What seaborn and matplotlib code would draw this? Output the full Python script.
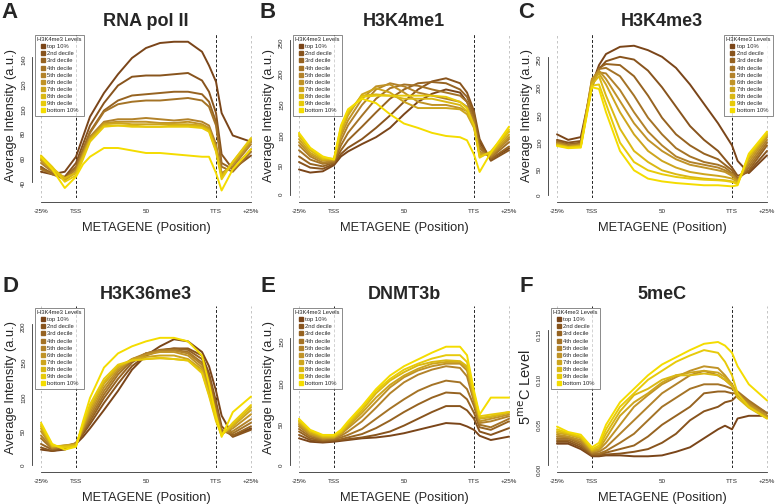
import matplotlib.pyplot as plt
import pandas as pd
import seaborn as sns
from matplotlib.lines import Line2D

# metagene positions (-25% upstream .. TSS=0 .. TTS=100 .. +25% downstream)
positions = [-25, -17, -8, 0, 5, 10, 20, 30, 40, 50, 60, 70, 80, 90, 95, 100, 104, 112, 125]
levels = ["top 10%", "2nd decile", "3rd decile", "4th decile", "5th decile",
          "6th decile", "7th decile", "8th decile", "9th decile", "bottom 10%"]

rna_pol2 = [
    [48, 46, 48, 60, 76, 92, 111, 126, 139, 147, 151, 152, 152, 144, 133, 120, 95, 77, 72],
    [52, 46, 44, 55, 70, 85, 103, 117, 124, 125, 125, 126, 127, 121, 112, 95, 62, 50, 61],
    [51, 47, 43, 52, 66, 80, 97, 105, 109, 110, 111, 112, 112, 110, 104, 88, 55, 50, 66],
    [50, 46, 42, 51, 65, 79, 96, 102, 104, 105, 105, 106, 107, 105, 100, 85, 52, 48, 64],
    [55, 48, 42, 50, 63, 76, 88, 90, 90, 91, 90, 89, 90, 88, 85, 70, 47, 52, 70],
    [57, 49, 41, 48, 62, 75, 87, 88, 88, 88, 87, 87, 88, 86, 83, 68, 46, 54, 72],
    [58, 50, 42, 47, 61, 74, 86, 87, 86, 86, 86, 86, 86, 85, 82, 66, 45, 55, 73],
    [59, 51, 43, 47, 60, 73, 85, 85, 85, 84, 84, 85, 85, 84, 81, 65, 44, 56, 74],
    [61, 52, 40, 45, 58, 72, 84, 85, 84, 84, 84, 84, 84, 83, 80, 64, 42, 56, 75],
    [60, 50, 35, 44, 54, 60, 67, 67, 65, 63, 63, 62, 61, 60, 60, 47, 33, 50, 66],
]
h3k4me1 = [
    [41, 36, 38, 48, 62, 70, 82, 93, 108, 130, 150, 163, 170, 165, 150, 125, 85, 58, 75],
    [53, 44, 42, 50, 66, 76, 90, 108, 128, 150, 170, 183, 188, 180, 165, 135, 90, 55, 72],
    [62, 50, 46, 52, 72, 88, 110, 133, 155, 170, 180, 182, 180, 170, 158, 130, 80, 58, 78],
    [72, 57, 50, 53, 80, 100, 128, 155, 172, 178, 176, 170, 165, 160, 150, 122, 75, 60, 85],
    [80, 62, 52, 55, 88, 112, 145, 170, 180, 175, 165, 160, 155, 150, 142, 118, 70, 62, 90],
    [85, 65, 55, 56, 95, 120, 155, 175, 178, 165, 150, 145, 145, 140, 135, 112, 68, 64, 93],
    [90, 68, 56, 57, 100, 128, 162, 172, 165, 150, 140, 140, 140, 138, 130, 108, 65, 66, 97],
    [95, 72, 58, 58, 105, 132, 160, 162, 160, 155, 155, 155, 150, 145, 135, 110, 62, 68, 102],
    [98, 75, 60, 58, 110, 135, 158, 160, 160, 160, 160, 160, 158, 150, 140, 112, 60, 70, 105],
    [100, 76, 62, 57, 112, 138, 155, 148, 130, 115, 108, 100, 95, 93, 88, 65, 37, 68, 110],
]
h3k4me3 = [
    [110, 100, 105, 200, 235, 255, 268, 270, 262, 250, 230, 200, 165, 130, 110, 90, 62, 40, 72],
    [100, 95, 98, 195, 228, 242, 250, 245, 225, 195, 160, 125, 100, 80, 65, 50, 35, 42, 80],
    [98, 92, 95, 200, 230, 237, 235, 215, 180, 140, 110, 90, 75, 65, 55, 45, 30, 45, 90],
    [96, 90, 92, 205, 228, 230, 215, 180, 140, 110, 85, 70, 60, 55, 50, 40, 28, 50, 95],
    [95, 90, 92, 210, 222, 220, 190, 150, 115, 90, 70, 60, 55, 50, 45, 38, 27, 55, 100],
    [93, 88, 90, 210, 225, 210, 170, 130, 100, 80, 65, 55, 50, 45, 42, 35, 25, 60, 105],
    [92, 87, 90, 205, 220, 200, 150, 110, 80, 62, 50, 42, 38, 35, 33, 30, 24, 65, 108],
    [91, 87, 88, 200, 215, 180, 120, 80, 60, 45, 38, 33, 30, 28, 27, 25, 22, 70, 110],
    [90, 86, 88, 198, 200, 165, 95, 60, 45, 38, 33, 30, 28, 27, 26, 24, 20, 72, 112],
    [89, 85, 86, 195, 192, 150, 80, 45, 30, 25, 22, 20, 18, 18, 17, 16, 18, 75, 115],
]
h3k36me3 = [
    [22, 20, 22, 30, 40, 52, 78, 105, 135, 155, 168, 178, 175, 160, 140, 105, 70, 42, 52],
    [25, 20, 24, 31, 44, 58, 88, 115, 140, 155, 162, 165, 165, 155, 130, 90, 55, 40, 50],
    [30, 22, 25, 31, 46, 62, 95, 122, 145, 158, 163, 165, 163, 150, 125, 85, 50, 42, 55],
    [38, 23, 26, 31, 48, 66, 100, 128, 148, 158, 162, 163, 160, 145, 120, 80, 48, 45, 60],
    [42, 24, 27, 31, 50, 70, 105, 132, 150, 158, 162, 162, 158, 142, 115, 75, 46, 48, 65],
    [48, 25, 28, 30, 52, 74, 110, 135, 150, 156, 160, 160, 155, 138, 110, 70, 45, 52, 72],
    [52, 26, 28, 29, 54, 78, 115, 138, 150, 153, 155, 155, 150, 135, 105, 68, 44, 55, 78],
    [55, 27, 27, 28, 56, 82, 118, 140, 148, 150, 151, 150, 148, 132, 100, 65, 43, 57, 82],
    [57, 28, 25, 27, 58, 86, 122, 142, 148, 150, 152, 150, 148, 130, 98, 62, 42, 60, 85],
    [60, 30, 22, 26, 62, 95, 138, 158, 168, 175, 180, 180, 175, 155, 115, 70, 40, 75, 97],
]
dnmt3b = [
    [32, 28, 27, 28, 29, 30, 32, 33, 35, 38, 42, 46, 50, 49, 46, 42, 35, 30, 34],
    [36, 30, 28, 29, 30, 31, 33, 36, 40, 47, 55, 63, 70, 70, 65, 55, 40, 36, 44],
    [40, 32, 29, 30, 31, 33, 37, 44, 53, 63, 72, 80, 86, 85, 78, 62, 45, 42, 52],
    [43, 34, 30, 31, 33, 36, 43, 55, 67, 78, 88, 95, 100, 98, 90, 70, 48, 45, 55],
    [46, 36, 31, 32, 35, 40, 52, 68, 85, 98, 107, 113, 117, 115, 105, 75, 50, 52, 58],
    [48, 37, 32, 33, 37, 44, 58, 75, 92, 104, 112, 117, 120, 120, 112, 78, 52, 55, 60],
    [50, 38, 33, 33, 38, 46, 62, 80, 95, 106, 114, 120, 122, 122, 115, 80, 55, 57, 62],
    [52, 40, 34, 34, 39, 48, 65, 85, 100, 110, 118, 122, 124, 123, 117, 82, 56, 58, 63],
    [53, 41, 35, 35, 40, 50, 68, 88, 102, 113, 120, 126, 130, 130, 122, 85, 58, 60, 63],
    [55, 42, 36, 36, 42, 52, 70, 90, 106, 117, 125, 133, 140, 140, 130, 88, 60, 80, 80],
]
mec5 = [
    [.024, .024, .018, .010, .010, .011, .011, .010, .010, .011, .015, .020, .030, .040, .044, .040, .052, .055, .055],
    [.026, .026, .020, .011, .011, .012, .013, .015, .018, .025, .035, .050, .060, .065, .070, .072, .078, .068, .055],
    [.028, .028, .022, .012, .012, .014, .018, .022, .032, .045, .055, .065, .080, .082, .082, .080, .080, .070, .058],
    [.030, .030, .024, .013, .013, .016, .025, .035, .050, .065, .075, .085, .090, .090, .088, .085, .082, .072, .058],
    [.032, .031, .026, .014, .015, .020, .035, .050, .065, .080, .090, .100, .105, .100, .095, .088, .080, .070, .055],
    [.034, .032, .028, .015, .017, .025, .045, .065, .078, .090, .098, .105, .110, .108, .100, .090, .078, .068, .055],
    [.036, .034, .030, .016, .018, .030, .055, .070, .080, .092, .100, .103, .105, .103, .098, .090, .078, .066, .053],
    [.038, .035, .031, .017, .020, .035, .060, .078, .085, .095, .100, .100, .102, .100, .095, .088, .075, .064, .052],
    [.040, .036, .032, .018, .022, .040, .065, .080, .095, .105, .115, .122, .128, .125, .115, .100, .080, .065, .052],
    [.043, .037, .034, .020, .025, .045, .070, .085, .100, .112, .120, .128, .135, .137, .133, .125, .110, .090, .072],
]

x_ticks = [-25, 0, 50, 100, 125]
x_labels = ["-25%", "TSS", "50", "TTS", "+25%"]

panels = [
    ("A", "RNA pol II", rna_pol2, [40, 60, 80, 100, 120, 140], None, (27, 159), "upper left"),
    ("B", "H3K4me1", h3k4me1, [0, 50, 100, 150, 200, 250], None, (-5, 261), "upper left"),
    ("C", "H3K4me3", h3k4me3, [0, 50, 100, 150, 200, 250], None, (-5, 293), "upper right"),
    ("D", "H3K36me3", h3k36me3, [0, 50, 100, 150, 200], None, (-4, 225), "upper left"),
    ("E", "DNMT3b", dnmt3b, [0, 50, 100, 150], None, (-3, 188), "upper left"),
    ("F", "5meC", mec5, [0, 0.05, 0.10, 0.15], ["0.00", "0.05", "0.10", "0.15"], (-0.003, 0.177), "upper left"),
]

sns.set_style("white")
plt.rcParams['font.family'] = ['Liberation Sans', 'DejaVu Sans']
palette = sns.blend_palette(["#7a4519", "#b98a2c", "#f4dc00"], 10)

fig = plt.figure(figsize=(7.76, 5.04), dpi=100)
W, H = 776, 504

for i, (letter, title, series, yt, ytl, ylim, legloc) in enumerate(panels):
    col, row = i % 3, i // 3
    left = 33 + col * 258
    top, bottom = (33, 198) if row == 0 else (306, 468)
    ax = fig.add_axes([left / W, 1 - bottom / H, 226 / W, (bottom - top) / H])

    df = pd.DataFrame([(positions[j], v, levels[k])
                       for k, s in enumerate(series) for j, v in enumerate(s)],
                      columns=["pos", "val", "level"])
    sns.lineplot(data=df, x="pos", y="val", hue="level", hue_order=levels,
                 palette=palette, linewidth=1.4, legend=False, ax=ax)

    for xv in (-25, 125):
        ax.axvline(xv, color="#bbbbbb", linestyle=(0, (3, 3)), linewidth=0.6, zorder=0)
    for xv in (0, 100):
        ax.axvline(xv, color="#222222", linestyle=(0, (3, 2)), linewidth=0.7, zorder=0)

    ax.set_xlim(-30.7, 130.7)
    ax.set_ylim(*ylim)
    ax.set_xticks(x_ticks)
    ax.set_xticklabels(x_labels)
    ax.set_yticks(yt)
    if ytl:
        ax.set_yticklabels(ytl)
    ax.tick_params(axis="both", labelsize=4.5, length=3, width=0.6, pad=2, color="#333333")
    ax.tick_params(axis="y", labelrotation=90, pad=1)
    for lab in ax.get_yticklabels():
        lab.set_va("center")
    for s in ("top", "right"):
        ax.spines[s].set_visible(False)
    ax.spines["bottom"].set_bounds(-25, 125)
    ax.spines["left"].set_bounds(yt[0], yt[-1])
    ax.spines["bottom"].set_position(("outward", 3))
    ax.spines["left"].set_position(("outward", 1))
    for s in ("bottom", "left"):
        ax.spines[s].set_linewidth(0.6)
        ax.spines[s].set_color("#333333")

    ax.set_xlabel("METAGENE (Position)", fontsize=9.3, labelpad=6)
    if letter == "F":
        ax.set_ylabel(r"5$^{\mathrm{me}}$C Level", fontsize=10.5, labelpad=2)
    else:
        ax.set_ylabel("Average Intensity (a.u.)", fontsize=9.3, labelpad=3)
    ax.set_title(title, fontsize=13, fontweight="bold", pad=5)
    fig.text((left - 23) / W, 1 - (12 if row == 0 else 287) / H, letter,
             fontsize=16, fontweight="bold", va="center", ha="center")

    handles = [Line2D([], [], marker="s", linestyle="none", markersize=2.2,
                      color=palette[k]) for k in range(10)]
    leg = ax.legend(handles, levels, title="H3K4me3 Levels", loc=legloc,
                    fontsize=4.2, title_fontsize=4.2, frameon=True, fancybox=False,
                    borderpad=0.4, labelspacing=0.35, handletextpad=0.3,
                    handlelength=1.0, borderaxespad=0.3)
    leg.get_frame().set_edgecolor("#555555")
    leg.get_frame().set_linewidth(0.6)

fig.savefig("out.png", dpi=100)
